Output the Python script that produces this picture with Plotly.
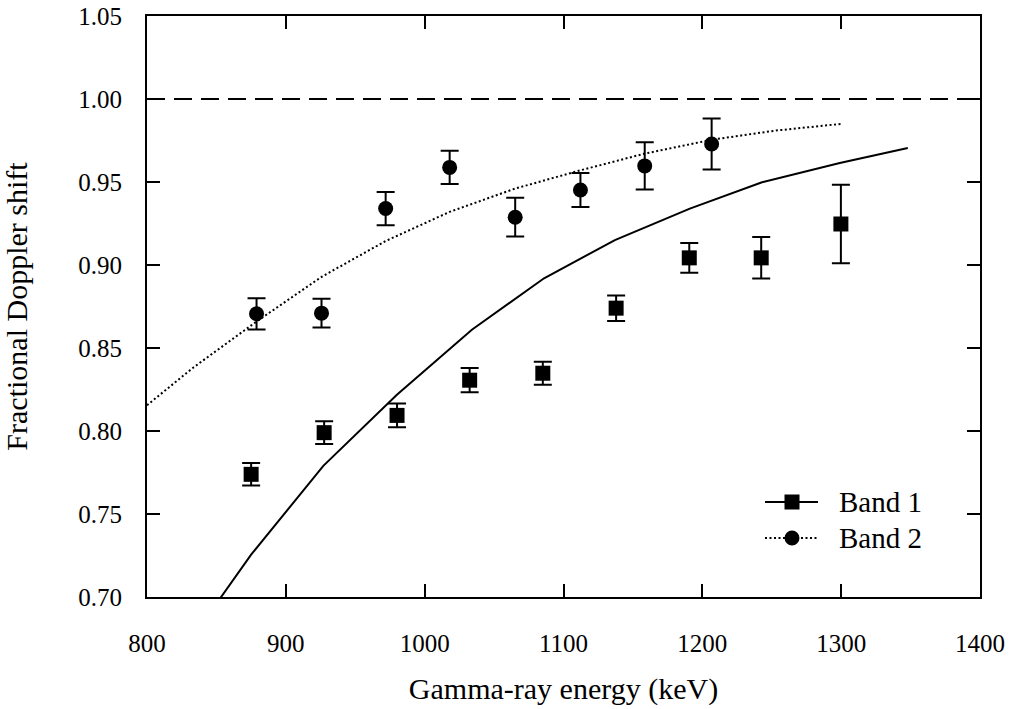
import plotly.graph_objects as go

# Measured data (Band 1 = squares, Band 2 = circles)
band1_e = [875.0, 927.6, 980.1, 1032.4, 1085.1, 1137.9, 1190.6, 1242.4, 1299.8]
band1_v = [0.7739, 0.7990, 0.8094, 0.8306, 0.8348, 0.8740, 0.9043, 0.9043, 0.9247]
band1_err = [0.0068, 0.0068, 0.0071, 0.0073, 0.0069, 0.0077, 0.0090, 0.0125, 0.0237]

band2_e = [878.9, 925.7, 971.9, 1018.0, 1065.2, 1112.2, 1158.5, 1206.7]
band2_v = [0.8706, 0.8710, 0.9340, 0.9588, 0.9288, 0.9452, 0.9597, 0.9729]
band2_err = [0.0094, 0.0086, 0.0100, 0.0100, 0.0117, 0.0102, 0.0142, 0.0153]

# Calculated curves
calc1_e = [822, 875, 927, 980, 1034, 1086, 1137, 1191, 1243, 1299, 1348]
calc1_v = [0.663, 0.7255, 0.779, 0.8218, 0.861, 0.892, 0.915, 0.934, 0.9498, 0.9615, 0.9705]

calc2_e = [800, 833, 879, 926, 972, 1018, 1065, 1112, 1158, 1207, 1253, 1300]
calc2_v = [0.8155, 0.838, 0.866, 0.893, 0.9145, 0.932, 0.946, 0.957, 0.967, 0.9755, 0.981, 0.985]

x_ticks = [800, 900, 1000, 1100, 1200, 1300, 1400]
y_ticks = [0.70, 0.75, 0.80, 0.85, 0.90, 0.95, 1.00, 1.05]
ref_level = 1.00
legend_names = ["Band 1", "Band 2"]

FONT = "Liberation Serif"
DOT = "2px,2.5px"

W, H = 1015, 709
ML, MR, MT, MB = 147, 35, 16, 112
PW, PH = W - ML - MR, H - MT - MB

fig = go.Figure()

fig.add_trace(go.Scatter(x=calc1_e, y=calc1_v, mode="lines",
                         line=dict(color="black", width=2), showlegend=False))
fig.add_trace(go.Scatter(x=calc2_e, y=calc2_v, mode="lines",
                         line=dict(color="black", width=2, dash=DOT), showlegend=False))

fig.add_trace(go.Scatter(x=band1_e, y=band1_v, mode="markers", name=legend_names[0],
                         marker=dict(symbol="square", size=15, color="black"),
                         error_y=dict(type="data", array=band1_err, visible=True,
                                      color="black", thickness=2, width=9),
                         showlegend=False))
fig.add_trace(go.Scatter(x=band2_e, y=band2_v, mode="markers", name=legend_names[1],
                         marker=dict(symbol="circle", size=15, color="black"),
                         error_y=dict(type="data", array=band2_err, visible=True,
                                      color="black", thickness=2, width=9),
                         showlegend=False))

fig.add_shape(type="line", xref="paper", x0=0, x1=1, yref="y", y0=ref_level, y1=ref_level,
              line=dict(color="black", width=2, dash="18px,9px"))

# Legend (drawn in pixel-based paper coordinates)
def px_x(p):
    return (p - ML) / PW

def px_y(p):
    return (H - MB - p) / PH

leg_rows = [502, 538]
leg_line = (765, 818)
leg_mark = 792
leg_text = 837
half = 7.5
for i, (name, yy) in enumerate(zip(legend_names, leg_rows)):
    dash = None if i == 0 else DOT
    fig.add_shape(type="line", xref="paper", yref="paper",
                  x0=px_x(leg_line[0]), x1=px_x(leg_line[1]), y0=px_y(yy), y1=px_y(yy),
                  line=dict(color="black", width=2, dash=dash))
    fig.add_shape(type="rect" if i == 0 else "circle", xref="paper", yref="paper",
                  x0=px_x(leg_mark - half), x1=px_x(leg_mark + half),
                  y0=px_y(yy + half), y1=px_y(yy - half),
                  line=dict(color="black", width=0), fillcolor="black")
    fig.add_annotation(text=name, xref="paper", yref="paper", x=px_x(leg_text), y=px_y(yy),
                       xanchor="left", yanchor="middle", showarrow=False,
                       font=dict(family=FONT, size=29, color="black"))

axis_common = dict(showline=True, linecolor="black", linewidth=2, mirror="ticks",
                   ticks="inside", ticklen=13, tickwidth=1.5, tickcolor="black",
                   showgrid=False, zeroline=False, automargin=False,
                   ticklabeloverflow="allow",
                   tickfont=dict(family=FONT, size=25, color="black"))

fig.update_xaxes(range=[800, 1400], tickvals=x_ticks, ticktext=[str(v) for v in x_ticks],
                 ticklabelstandoff=23,
                 title=dict(text="Gamma-ray energy (keV)", standoff=22,
                            font=dict(family=FONT, size=30, color="black")),
                 **axis_common)
fig.update_yaxes(range=[0.70, 1.05], tickvals=y_ticks, ticktext=[f"{v:.2f}" for v in y_ticks],
                 ticklabelstandoff=18,
                 title=dict(text="Fractional Doppler shift", standoff=42,
                            font=dict(family=FONT, size=30, color="black")),
                 **axis_common)

fig.update_layout(
    width=W, height=H,
    margin=dict(l=ML, r=MR, t=MT, b=MB, autoexpand=False),
    plot_bgcolor="white", paper_bgcolor="white",
    font=dict(family=FONT, color="black"),
    showlegend=False,
)

fig.write_html("out.html")
